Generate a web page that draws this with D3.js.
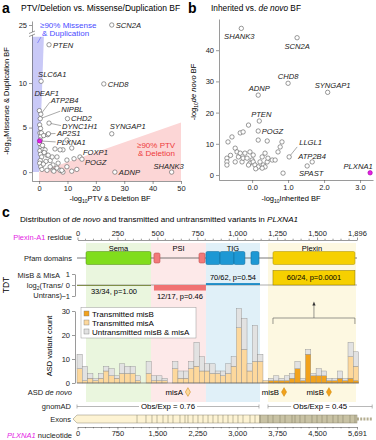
<!DOCTYPE html>
<html lang="en">
<head>
<meta charset="UTF-8">
<title>PLXNA1 Bayes factors and variant distribution</title>
<script src="https://d3js.org/d3.v7.min.js"></script>
<style>
  body { margin: 0; background: #fff; }
  svg { font-family: "Liberation Sans", Arial, Helvetica, sans-serif; }
  .axis path, .axis line { stroke: #555; stroke-width: 0.6; }
  .axis text { font-size: 7.5px; fill: #222; font-family: "Liberation Sans", Arial, sans-serif; }
  .gene { font-size: 7.6px; font-style: italic; fill: #222; }
  .lead { stroke: #555; stroke-width: 0.5; }
  .row { font-size: 7.5px; fill: #222; text-anchor: end; }
</style>
</head>
<body>
<script>
const magenta = "#e41ee4";

// ---------- panel a : PTV/Deletion vs Missense/Duplication BF ----------
const aGenes = ["SCN2A","PTEN","SLC6A1","CHD8","DEAF1","ATP2B4","NIPBL","CHD2","DYNC1H1","AP2S1","PLXNA1","SYNGAP1","FOXP1","POGZ","ADNP","SHANK3"];
const aPtv   = [25.6, 3.5, 0.7, 22.8, 0.1, 0.6, 0.4, 10.0, 3.5, 3.3, 0.2, 25.6, 14.4, 15.1, 26.7, 46.7];
const aMis   = [25, 14.3, 10.2, 9.9, 6.9, 6.5, 6.0, 6.0, 5.5, 4.3, 3.5, 4.3, 1.7, 1.45, 0, 0];
const aBgPtv = [0.2,0.5,0.3,0.6,0.4,0.2,0.7,0.3,0.5,0.9,0.4,0.2,0.6,1.4,2.1,2.8,3.9,4.9,6.3,7.4,8.4,9.8,8.4,11.5,5.6,7.4,9.8,9.8,8.0,11.5,13.3,6.7,3.9,4.9,2.8,6.3,4.6,3.2,1.2,1.8,2.4,1.0,0.8,1.6,3.0,12.3,5.2,1.5];
const aBgMis = [5.3,4.9,4.4,4.0,3.6,3.2,2.8,2.4,2.0,1.7,1.3,1.0,0.6,2.6,2.5,1.9,1.3,0.8,0.45,0.2,0.0,3.6,2.5,2.7,2.6,2.5,1.35,0.6,0.2,0.1,0.3,1.0,0.6,0.2,0.2,1.7,1.7,1.9,3.0,2.2,1.2,0.3,4.4,4.1,4.2,1.5,0.1,0.9];

// ---------- panel b : inherited vs de novo BF ----------
const bGenes = ["SHANK3","SCN2A","CHD8","ADNP","SYNGAP1","PTEN","POGZ","LLGL1","ATP2B4","SPAST","PLXNA1"];
const bInh   = [-0.3, 1.25, 1.0, 0.17, 2.1, 0.2, 0.17, 1.03, 1.67, 0.86, 3.28];
const bDn    = [47, 44, 29.4, 25.6, 26.5, 17.3, 14.1, 5.8, 4.2, 0.6, 0.7];
const bBgInh = [-0.67,-0.56,-0.33,-0.25,-0.1,0.17,0.42,0.78,0.83,-0.7,-0.7,-0.7,-0.47,-0.42,-0.38,-0.47,-0.33,-0.28,-0.25,-0.14,-0.06,0,-0.06,0.03,0.08,0.17,0.22,0.28,0.36,0.31,0.42,0.44,0.56,0.64,0.72,-0.1,0.03,-0.2,0.36,0.28,1.53,-0.6,0.1];
const bBgDn  = [10.6,12.2,13.5,13.8,16,11.2,10.9,9,10.6,5.4,4.2,3.2,8.6,7.4,5.8,4.2,7,4.2,5.4,5.4,7.4,4.8,3.8,4.2,3.2,2.6,4.2,5.8,7,3.2,4.2,5.4,4.8,4.8,7.4,3.2,6.4,7,2.6,2.2,2.9,6.3,2.0];

// ---------- panel c : PLXNA1 ----------
const domNames = ["Sema","PSI","TIG","Plexin"];
const domStart = [61, 501, 873, 1293];
const domEnd   = [501, 873, 1239, 1889];
const pfamName  = ["Sema","PSI","PSI","TIG","TIG","TIG","TIG","Plexin"];
const pfamStart = [61, 521, 826, 873, 968, 1063, 1178, 1327];
const pfamEnd   = [501, 562, 867, 968, 1063, 1137, 1232, 1882];
const tdtStart = [0, 521, 873, 1327];
const tdtEnd   = [501, 873, 1239, 1882];
const tdtTrans   = [33, 12, 70, 60];
const tdtUntrans = [34, 17, 62, 24];
const tdtP = ["1.00", "0.46", "0.54", "0.0001"];
const residueTicks = [0, 250, 500, 750, 1000, 1250, 1500, 1896];
const ntTicks = [0, 750, 1500, 2250, 3000, 3750, 4500, 5691];
const binSize = 108;
const histTransB  = [0,0,0,0,0,0,0,0,0,0,0,0,0,0,0,0,0,0,0,0,0,0,0,0,0,0,0,0,0,0,0,0,0,0,0,0,1,1,1,1,2,6,1,12,3,3,3,1,1,2,1,2,1];
const histTransA  = [6,1,2,1,2,5,3,2,4,4,4,1,0,4,1,1,1,0,6,2,2,6,7,5,5,4,4,3,4,7,23,14,5,9,9,1,0,0,0,0,0,0,0,0,0,0,0,0,0,0,0,9,6];
const histUntrans = [6,6,2,1,2,2,3,1,4,3,3,2,0,5,2,2,1,0,3,3,3,3,10,6,3,4,1,2,4,4,8,13,3,15,3,0,1,2,1,2,2,3,1,2,1,3,2,1,1,3,1,6,6];
const dnClass = ["misA", "misB", "misB"];
const dnResidue = [751, 1402, 1706];
const gnomStart = [0, 3882];
const gnomEnd   = [3699, 6000];
const gnomOE = ["0.76", "0.45"];
const exonBounds = [1220,1402,1524,1626,1748,1850,1951,2093,2195,2256,2358,2459,2561,2663,2764,2866,2967,3069,3171,3272,3374,3516,3618,3719,3882,3984,4126,4228,4370,4431,4532,4634,4776,4878,4980,5081,5203,5305,5406,5549,5650];
const cdsLen = 5691, utrEnd = 6000, tmNt = 3719;

const svg = d3.select("body").append("svg").attr("width", 376).attr("height", 440);

// panel letters
[["a", 2, 13], ["b", 188, 13], ["c", 2, 217]].forEach(([t, x, y]) =>
  svg.append("text").attr("x", x).attr("y", y).attr("font-size", 14).attr("font-weight", "bold").text(t));

function logLabel(g, x, y, rest, rot) {
  const t = g.append("text").attr("font-size", 7.5).attr("text-anchor", "middle")
    .attr("transform", `translate(${x},${y})` + (rot ? " rotate(-90)" : ""));
  t.append("tspan").text("-log");
  t.append("tspan").attr("font-size", 5).attr("dy", 1.8).text("10");
  const r = t.append("tspan").attr("dy", -1.8);
  rest.forEach(([s, it]) => r.append("tspan").attr("font-style", it ? "italic" : null).text(s));
  return t;
}

function genePoints(g, names, xs, ys, xS, yS, lab) {
  names.forEach((n, i) => {
    const px = xS(xs[i]), py = yS(ys[i]);
    const hl = n === "PLXNA1";
    const L = lab[n];
    if (L[3]) g.append("line").attr("class", "lead").attr("stroke", hl ? magenta : null)
      .attr("x1", px).attr("y1", py).attr("x2", px + L[3][0]).attr("y2", py + L[3][1]);
    g.append("circle").attr("cx", px).attr("cy", py).attr("r", 2.2)
      .attr("fill", hl ? magenta : "#fff").attr("stroke", hl ? "#a000a0" : "#555").attr("stroke-width", 0.6);
    g.append("text").attr("class", "gene").attr("x", px + L[0]).attr("y", py + L[1])
      .attr("text-anchor", L[2]).attr("fill", hl ? magenta : null).text(n);
  });
}

// ===== panel a =====
{
  const ax = d3.scaleLinear().domain([-2.5, 50]).range([32, 181]);
  const ay = d3.scaleLinear().domain([-1, 16, 25, 26.5]).range([181, 29.6, 25, 21]);
  const g = svg.append("g");
  const poly = d3.line().x(d => ax(d[0])).y(d => ay(d[1]));
  const x0 = ax.domain()[0], top = 15.2;
  g.append("path").attr("d", poly([[x0, 0], [0, 0], [top / 9, top], [x0, top]]) + "Z").attr("fill", "#c9c9f7");
  g.append("path").attr("d", poly([[0, -1], [50, -1], [50, 50 / 9], [0, 0]]) + "Z").attr("fill", "#fcd6d6");

  g.append("text").attr("x", 137).attr("y", 148).attr("font-size", 8).attr("fill", "#ee3a3a").text("≥90% PTV");
  g.append("text").attr("x", 138).attr("y", 156).attr("font-size", 8).attr("fill", "#ee3a3a").text("& Deletion");
  g.append("text").attr("x", 40).attr("y", 28).attr("font-size", 8).attr("fill", "#4a4aff").text("≥90% Missense");
  g.append("text").attr("x", 42).attr("y", 36).attr("font-size", 8).attr("fill", "#4a4aff").text("& Duplication");
  g.append("line").attr("x1", 41).attr("y1", 37).attr("x2", 37.5).attr("y2", 43).attr("stroke", "#4a4aff").attr("stroke-width", 0.5);

  g.append("g").attr("class", "axis").attr("transform", "translate(0,181)")
    .call(d3.axisBottom(ax).tickValues([0, 10, 20, 30, 40, 50]).tickSize(3).tickPadding(2).tickSizeOuter(0));
  g.append("g").attr("class", "axis").attr("transform", "translate(32,0)")
    .call(d3.axisLeft(ay).tickValues([0, 5, 10, 25]).tickSize(3).tickPadding(2).tickSizeOuter(0));
  // axis break
  g.append("rect").attr("x", 29).attr("y", 32).attr("width", 6).attr("height", 3).attr("fill", "#fff");
  g.append("line").attr("x1", 29).attr("y1", 33.5).attr("x2", 35).attr("y2", 31).attr("stroke", "#555").attr("stroke-width", 0.6);
  g.append("line").attr("x1", 29).attr("y1", 36.5).attr("x2", 35).attr("y2", 34).attr("stroke", "#555").attr("stroke-width", 0.6);

  logLabel(g, 110, 201, [["PTV & Deletion BF"]]);
  logLabel(g, 9, 101, [["Missense & Duplication BF"]], true);

  aBgPtv.forEach((v, i) => g.append("circle").attr("cx", ax(v)).attr("cy", ay(aBgMis[i])).attr("r", 2.2)
    .attr("fill", "#fff").attr("stroke", "#555").attr("stroke-width", 0.6));

  const labA = {
    SCN2A: [4, 3, "start"], PTEN: [4, 3, "start"], SLC6A1: [-3, -4, "start"], CHD8: [4, 3, "start"],
    DEAF1: [-5, -14.5, "start"], ATP2B4: [10, -11, "start", [9, -12]], NIPBL: [21, -6.5, "start", [20, -7.5]],
    CHD2: [3.5, 2.5, "start"], DYNC1H1: [13, 5.6, "start", [12, 2.5]], AP2S1: [8.5, 2.6, "start", [7, -0.3]],
    PLXNA1: [17, 4.3, "start", [16, 1]], SYNGAP1: [-2, -4.5, "start"], FOXP1: [3, -2, "start"],
    POGZ: [3, 6.3, "start"], ADNP: [4, 3, "start"], SHANK3: [-3, -3.5, "middle"]
  };
  genePoints(g, aGenes, aPtv, aMis, ax, ay, labA);

  g.append("text").attr("x", 21).attr("y", 11).attr("font-size", 8.5).text("PTV/Deletion vs. Missense/Duplication BF");
}

// ===== panel b =====
{
  const bx = d3.scaleLinear().domain([-0.92, 3.36]).range([219, 373]);
  const by = d3.scaleLinear().domain([-1.6, 50]).range([180, 19]);
  const g = svg.append("g");
  g.append("g").attr("class", "axis").attr("transform", "translate(0,180)")
    .call(d3.axisBottom(bx).tickValues([0, 1, 2, 3]).tickSize(3).tickPadding(2).tickSizeOuter(0));
  g.append("g").attr("class", "axis").attr("transform", "translate(219,0)")
    .call(d3.axisLeft(by).tickValues([0, 10, 20, 30, 40]).tickSize(3).tickPadding(2).tickSizeOuter(0));
  logLabel(g, 291, 201, [["Inherited BF"]]);
  logLabel(g, 196, 92, [["de novo", true], [" BF"]], true);

  bBgInh.forEach((v, i) => g.append("circle").attr("cx", bx(v)).attr("cy", by(bBgDn[i])).attr("r", 2.2)
    .attr("fill", "#fff").attr("stroke", "#555").attr("stroke-width", 0.6));
  const labB = {
    SHANK3: [-2, 11, "middle"], SCN2A: [0, 11, "middle"], CHD8: [0, -4, "middle"], ADNP: [1, -4.5, "middle"],
    SYNGAP1: [5, -4.5, "middle"], PTEN: [2, -4.5, "middle"], POGZ: [3.5, 3, "start"],
    LLGL1: [10, -12, "start", [8, -10]], ATP2B4: [-14, -2.5, "start"], SPAST: [16, 3, "start"], PLXNA1: [-12, -4, "middle"]
  };
  genePoints(g, bGenes, bInh, bDn, bx, by, labB);

  const t = g.append("text").attr("x", 211).attr("y", 11).attr("font-size", 8.3);
  t.append("tspan").text("Inherited vs. ");
  t.append("tspan").attr("font-style", "italic").text("de novo");
  t.append("tspan").text(" BF");
}

// ===== panel c =====
{
  const rx = d3.scaleLinear().domain([0, 1896]).range([77, 357]);
  const nx = d3.scaleLinear().domain([0, cdsLen]).range([77, 357]);
  // tick labels of both position axes sit at even steps
  const rTickX = d3.scalePoint().domain(residueTicks).range([77.5, 357]);
  const nTickX = d3.scalePoint().domain(ntTicks).range([77.5, 357]);
  const ty = d3.scaleLinear().domain([-1, 1]).range([296, 274]);
  const hy = d3.scaleLinear().domain([0, 30]).range([383, 311]);
  const g = svg.append("g");
  const shade = ["#eaf6de", "#fde9e9", "#e0f0f8", "#fdf8e1"];
  const boxFill = ["#80dd1c", "#f27a7a", "#1d98d4", "#f6d000"];
  const boxLine = ["#4e8a10", "#b84040", "#0d6898", "#a88e00"];
  const tdtFill = ["#6f7d2a", "#f07272", "#1f8cc6", "#f6d000"];
  const di = n => domNames.indexOf(n);

  const t = g.append("text").attr("x", 20).attr("y", 222).attr("font-size", 8.1);
  t.append("tspan").text("Distribution of ");
  t.append("tspan").attr("font-style", "italic").text("de novo");
  t.append("tspan").text(" and transmitted and untransmitted variants in ");
  t.append("tspan").attr("font-style", "italic").text("PLXNA1");

  // domain shading
  domNames.forEach((n, i) => {
    g.append("rect").attr("x", rx(domStart[i])).attr("y", 243).attr("width", rx(domEnd[i]) - rx(domStart[i]))
      .attr("height", 159).attr("fill", shade[i]);
    g.append("text").attr("x", (rx(domStart[i]) + rx(domEnd[i])) / 2).attr("y", 250.5).attr("font-size", 7.5)
      .attr("text-anchor", "middle").text(n);
  });

  // residue axis
  const ra = g.append("g").attr("class", "axis").attr("transform", "translate(0,240)")
    .call(d3.axisTop(rTickX).tickSize(2.5).tickPadding(1.5).tickSizeOuter(0).tickFormat(d3.format(",")));
  const minorR = d3.range(0, 35).filter(k => k % 5).map(k => 77.5 + k * rTickX.step() / 5);
  ra.selectAll(".minor").data(minorR).enter().append("line")
    .attr("x1", d => d).attr("x2", d => d).attr("y1", 0).attr("y2", -1.3);
  const rl = g.append("text").attr("class", "row").attr("x", 72).attr("y", 240);
  rl.append("tspan").attr("fill", magenta).text("Plexin-A1");
  rl.append("tspan").text(" residue");

  // pfam row
  g.append("line").attr("x1", rx(0)).attr("x2", rx(1896)).attr("y1", 258).attr("y2", 258).attr("stroke", "#555").attr("stroke-width", 0.8);
  pfamName.forEach((n, i) => {
    const psi = n === "PSI";
    g.append("rect").attr("x", rx(pfamStart[i])).attr("width", rx(pfamEnd[i]) - rx(pfamStart[i]))
      .attr("y", psi ? 253 : 251.5).attr("height", psi ? 10 : 13).attr("rx", 1.5)
      .attr("fill", boxFill[di(n)]).attr("stroke", boxLine[di(n)]).attr("stroke-width", 0.5);
  });
  g.append("text").attr("class", "row").attr("x", 72).attr("y", 261).text("Pfam domains");

  // TDT row
  g.append("line").attr("x1", 77).attr("x2", 357).attr("y1", ty(0)).attr("y2", ty(0)).attr("stroke", "#777").attr("stroke-width", 0.6);
  domNames.forEach((n, i) => {
    const v = Math.log2(tdtTrans[i] / tdtUntrans[i]);
    const x1 = rx(tdtStart[i]), x2 = rx(tdtEnd[i]);
    const yT = Math.min(ty(v), ty(0)), h = Math.max(Math.abs(ty(v) - ty(0)), 0.8);
    g.append("rect").attr("x", x1).attr("width", x2 - x1).attr("y", yT).attr("height", h)
      .attr("fill", tdtFill[i]).attr("stroke", v > 1 ? "#8a7400" : "none").attr("stroke-width", 0.5);
    const lab = `${tdtTrans[i]}/${tdtUntrans[i]}, p=${tdtP[i]}`;
    const yl = v > 1 ? ty(v / 2) + 2.7 : v > 0.1 ? ty(v) - 3 : ty(0) + h + 8;
    g.append("text").attr("x", (x1 + x2) / 2).attr("y", yl).attr("font-size", 7.5).attr("text-anchor", "middle").text(lab);
  });
  g.append("g").attr("class", "axis").attr("transform", "translate(75,0)")
    .call(d3.axisLeft(ty).tickValues([-1, 0, 1]).tickSize(3).tickPadding(2).tickSizeOuter(0).tickFormat(d3.format("d")));
  g.append("text").attr("class", "row").attr("x", 60).attr("y", 278).text("MisB & MisA");
  const l2 = g.append("text").attr("class", "row").attr("x", 63).attr("y", 288);
  l2.append("tspan").text("log");
  l2.append("tspan").attr("font-size", 5).attr("dy", 1.8).text("2");
  l2.append("tspan").attr("dy", -1.8).text("(Trans/");
  g.append("text").attr("class", "row").attr("x", 62).attr("y", 298).text("Untrans)");
  g.append("text").attr("font-size", 8.5).attr("text-anchor", "middle").attr("transform", "translate(9,285) rotate(-90)").text("TDT");

  // histogram
  const cols = { tb: "#f2a21c", ta: "#fdd89c", un: "#e2e2e2" };
  histTransB.forEach((b, i) => {
    const x1 = nx(i * binSize), x2 = nx((i + 1) * binSize);
    let base = 0;
    [[b, cols.tb], [histTransA[i], cols.ta], [histUntrans[i], cols.un]].forEach(([v, c]) => {
      if (!v) return;
      g.append("rect").attr("x", x1).attr("width", x2 - x1).attr("y", hy(base + v)).attr("height", hy(base) - hy(base + v))
        .attr("fill", c).attr("stroke", "#8c8c8c").attr("stroke-width", 0.4);
      base += v;
    });
  });
  g.append("line").attr("x1", 77).attr("x2", 359).attr("y1", hy(0)).attr("y2", hy(0)).attr("stroke", "#555").attr("stroke-width", 0.6);
  g.append("g").attr("class", "axis").attr("transform", "translate(75,0)")
    .call(d3.axisLeft(hy).tickValues([0, 10, 20, 30]).tickSize(3).tickPadding(2).tickSizeOuter(0));
  g.append("text").attr("font-size", 7.5).attr("text-anchor", "middle").attr("transform", "translate(52,346) rotate(-90)").text("ASD variant count");

  // legend
  const lg = g.append("g");
  lg.append("rect").attr("x", 81).attr("y", 307.5).attr("width", 115).attr("height", 30.5).attr("fill", "#fff").attr("stroke", "#999").attr("stroke-width", 0.5);
  [["Transmitted misB", cols.tb], ["Transmitted misA", cols.ta], ["Untransmitted misB & misA", cols.un]].forEach(([s, c], i) => {
    lg.append("rect").attr("x", 84).attr("y", 311 + i * 9).attr("width", 5).attr("height", 5).attr("fill", c).attr("stroke", "#777").attr("stroke-width", 0.4);
    lg.append("text").attr("x", 92).attr("y", 316.5 + i * 9).attr("font-size", 8).text(s);
  });

  // plexin bracket + arrow
  const bx1 = rx(pfamStart[7]), bx2 = rx(pfamEnd[7]), bm = (bx1 + bx2) / 2;
  g.append("path").attr("d", `M${bx1},324V318H${bx2}V324`).attr("fill", "none").attr("stroke", "#555").attr("stroke-width", 0.6);
  g.append("line").attr("x1", bm).attr("x2", bm).attr("y1", 318).attr("y2", 304).attr("stroke", "#555").attr("stroke-width", 0.6);
  g.append("path").attr("d", `M${bm - 1.6},305.5L${bm},301.5L${bm + 1.6},305.5Z`).attr("fill", "#333");

  // de novo row
  const dl = g.append("text").attr("class", "row").attr("x", 72).attr("y", 395);
  dl.append("tspan").text("ASD ");
  dl.append("tspan").attr("font-style", "italic").text("de novo");
  dnClass.forEach((c, i) => {
    const x = rx(dnResidue[i]);
    g.append("path").attr("d", d3.symbol(d3.symbolDiamond, 22)()).attr("transform", `translate(${x},392)`)
      .attr("fill", c === "misB" ? cols.tb : cols.ta).attr("stroke", "#c88000").attr("stroke-width", 0.5);
    g.append("text").attr("x", x - 5).attr("y", 395).attr("font-size", 7.8).attr("text-anchor", "end").text(c);
  });

  // gnomAD row
  g.append("text").attr("class", "row").attr("x", 71).attr("y", 409).text("gnomAD");
  gnomOE.forEach((oe, i) => {
    const x1 = nx(gnomStart[i]), x2 = nx(gnomEnd[i]), xm = (x1 + x2) / 2;
    const tx = g.append("text").attr("x", xm).attr("y", 409).attr("font-size", 7.8).attr("text-anchor", "middle").text(`Obs/Exp = ${oe}`);
    const w = tx.node().getComputedTextLength() / 2 + 2;
    [[x1, xm - w], [xm + w, x2]].forEach(([a, b]) =>
      g.append("line").attr("x1", a).attr("x2", b).attr("y1", 406.5).attr("y2", 406.5).attr("stroke", "#888").attr("stroke-width", 0.6));
    [x1, x2].forEach(x => g.append("line").attr("x1", x).attr("x2", x).attr("y1", 404.5).attr("y2", 408.5).attr("stroke", "#888").attr("stroke-width", 0.6));
  });

  // exons row
  g.append("text").attr("class", "row").attr("x", 71).attr("y", 421.5).text("Exons");
  g.append("line").attr("x1", nx(cdsLen)).attr("x2", nx(utrEnd)).attr("y1", 419).attr("y2", 419)
    .attr("stroke", "#b5ae92").attr("stroke-width", 3).attr("stroke-dasharray", "2,1.2");
  g.append("path").attr("d", `M${nx(0) - 4},419L${nx(0)},415H${nx(tmNt)}V423H${nx(0)}Z`).attr("fill", "#fdf3d3").attr("stroke", "#8d8770").attr("stroke-width", 0.5);
  g.append("rect").attr("x", nx(tmNt)).attr("y", 415).attr("width", nx(cdsLen) - nx(tmNt)).attr("height", 8)
    .attr("fill", "#c8c2a4").attr("stroke", "#8d8770").attr("stroke-width", 0.5);
  exonBounds.forEach(b => g.append("line").attr("x1", nx(b)).attr("x2", nx(b)).attr("y1", 415).attr("y2", 423)
    .attr("stroke", "#7d7862").attr("stroke-width", 0.5));

  // nucleotide axis
  const na = g.append("g").attr("class", "axis").attr("transform", "translate(0,427)")
    .call(d3.axisBottom(nTickX).tickSize(2.5).tickPadding(1.5).tickSizeOuter(0).tickFormat(d3.format(",")));
  const minorN = d3.range(0, 35).filter(k => k % 5).map(k => 77.5 + k * nTickX.step() / 5);
  na.selectAll(".minor").data(minorN).enter().append("line")
    .attr("x1", d => d).attr("x2", d => d).attr("y1", 0).attr("y2", 1.3);
  const nl = g.append("text").attr("class", "row").attr("x", 72).attr("y", 437.5);
  nl.append("tspan").attr("fill", magenta).attr("font-style", "italic").text("PLXNA1");
  nl.append("tspan").text(" nucleotide");
}
</script>
</body>
</html>
